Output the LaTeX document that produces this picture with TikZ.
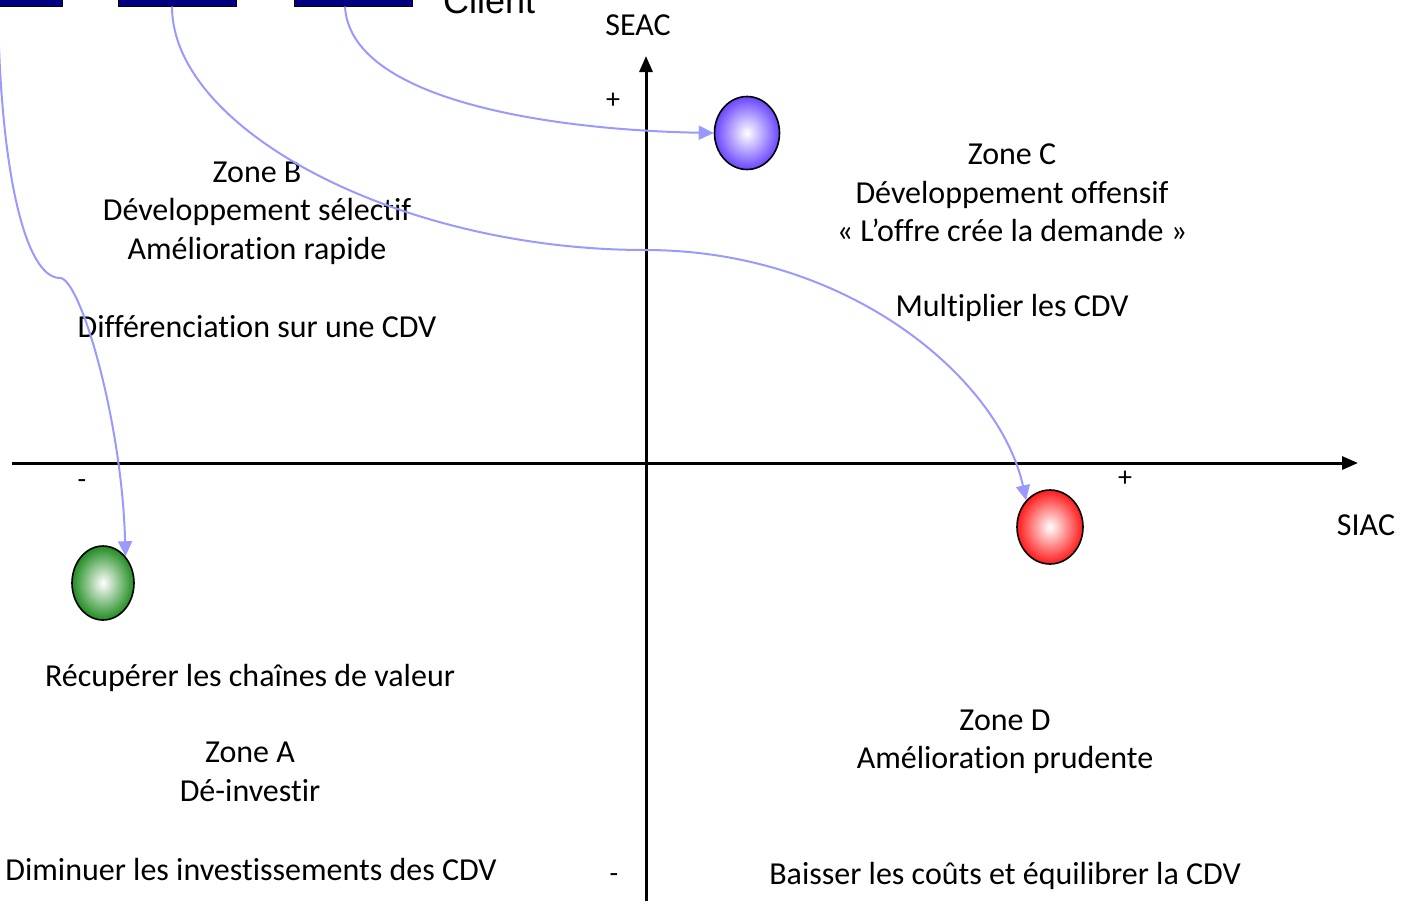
\documentclass[tikz,border=0pt]{standalone}
\usepackage{fontspec}
\setmainfont{Carlito}[Ligatures={NoCommon}]
\newfontfamily\clientfont{Liberation Sans}
\usetikzlibrary{arrows.meta,shapes.geometric}
\definecolor{linkblue}{HTML}{9999FF}
\definecolor{navybox}{HTML}{000080}
\definecolor{ballblue}{HTML}{6A45FF}
\definecolor{ballred}{HTML}{FF1A1A}
\definecolor{ballgreen}{HTML}{218C21}
\tikzset{
  lbl/.style={font=\fontsize{32}{38.5}\selectfont, align=center, inner sep=0pt},
  sgn/.style={font=\fontsize{28}{32}\selectfont, inner sep=0pt},
  axis/.style={line width=3pt, -{Triangle[length=16pt,width=13pt]}},
  link/.style={linkblue, line width=2pt, -{Triangle[length=15pt,width=14pt]}},
  ball/.style={ellipse, draw=black, line width=1.6pt, minimum width=#1},
  topbox/.style={draw=black, fill=navybox, line width=1pt, minimum width=118pt, minimum height=44pt, inner sep=0pt}
}
\begin{document}
\begin{tikzpicture}[x=1pt,y=-1pt]
\useasboundingbox (0,0) rectangle (1402,908);
\clip (0,0) rectangle (1402,908);

% boxes along the top edge
\node[topbox] (b1) at (3,-16) {};
\node[topbox] (b2) at (177,-16) {};
\node[topbox] (b3) at (353,-16) {};
\node[font=\clientfont\fontsize{36}{40}\selectfont, anchor=base west, inner sep=0pt] (client) at (443,13) {Client};

% axes
\coordinate (xl) at (12,463);
\coordinate (xr) at (1358,463);
\coordinate (yb) at (646,901);
\coordinate (yt) at (646,56);
\draw[axis] (xl) -- (xr);
\draw[axis] (yb) -- (yt);

% axis labels and signs
\node[lbl] (seac) at (638,25) {SEAC};
\node[lbl] (siac) at (1366,525) {SIAC};
\node[sgn] (pt) at (613,101) {+};
\node[sgn] (pr) at (1125,479) {+};
\node[sgn] (ml) at (82,484) {-};
\node[sgn] (mb) at (614,878) {-};

% balls
\node[ball=65pt, minimum height=73pt, inner color=white, outer color=ballblue] (cb) at (747,133) {};
\node[ball=66pt, minimum height=74pt, inner color=white, outer color=ballred] (cr) at (1050,527) {};
\node[ball=62pt, minimum height=74pt, inner color=white, outer color=ballgreen] (cg) at (103,583) {};

% zone texts
\node[lbl] (zb) at (257,213) {Zone B\\Développement sélectif\\Amélioration rapide};
\node[lbl] (zbs) at (257,327) {Différenciation sur une CDV};
\node[lbl] (zc) at (1012,193) {Zone C\\Développement offensif\\« L’offre crée la demande »};
\node[lbl] (zcs) at (1012,308) {Multiplier les CDV};
\node[lbl] (za0) at (250,678) {Récupérer les chaînes de valeur};
\node[lbl] (za) at (250,772) {Zone A\\Dé-investir};
\node[lbl] (zas) at (251,869) {Diminuer les investissements des CDV};
\node[lbl] (zd) at (1005,742) {Zone D\\Amélioration prudente};
\node[lbl] (zds) at (1005,876) {Baisser les coûts et équilibrer la CDV};

% links from the top boxes to the balls
\coordinate (k1) at (60,278);
\coordinate (k2) at (645,250);
\draw[link] ([xshift=-5pt]b1.south) .. controls (0,170) and (25,278) .. (k1)
  .. controls (80,278) and (122,420) .. (cg.north east);
\draw[link] ([xshift=-5pt]b2.south) .. controls (172,130) and (400,250) .. (k2)
  .. controls (850,250) and (1000,380) .. (cr.north west);
\draw[link] ([xshift=-8pt]b3.south) .. controls (350,100) and (550,130) .. (cb.west);
\end{tikzpicture}
\end{document}
